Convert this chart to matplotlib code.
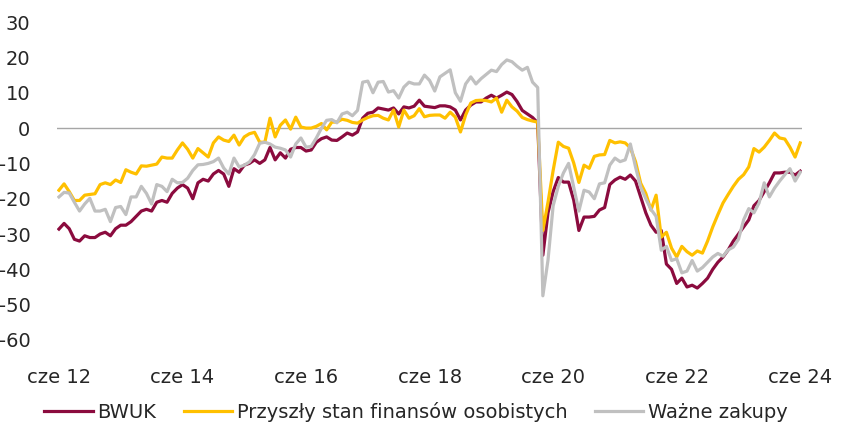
import numpy as np
import matplotlib
matplotlib.use("Agg")
import matplotlib.pyplot as plt

# monthly data, cze 2012 - cze 2024
bwuk = [
    -28.6, -27.0, -28.5, -31.5, -32.0, -30.5, -31.0, -31.0, -30.0, -29.5, -30.5, -28.5,
    -27.5, -27.5, -26.5, -25.0, -23.5, -23.0, -23.5, -21.0, -20.5, -21.0, -18.5, -17.0,
    -16.0, -17.0, -20.0, -15.5, -14.5, -15.0, -13.0, -12.0, -13.0, -16.5, -11.5, -12.5,
    -10.5, -10.0, -9.0, -10.0, -9.0, -5.5, -9.0, -7.0, -8.5, -6.0, -5.5, -5.5,
    -6.5, -6.2, -4.0, -3.0, -2.5, -3.4, -3.5, -2.5, -1.4, -2.0, -1.1, 2.8,
    4.2, 4.5, 5.7, 5.4, 5.1, 5.7, 4.0, 6.0, 5.7, 6.2, 7.9, 6.2,
    6.0, 5.8, 6.3, 6.3, 6.0, 5.1, 2.3, 5.1, 6.5, 7.4, 7.4, 8.5,
    9.3, 8.5, 9.3, 10.2, 9.5, 7.5, 5.0, 4.0, 3.0, 1.5, -36.0, -24.0,
    -18.0, -14.0, -15.3, -15.3, -20.4, -29.0, -25.2, -25.2, -25.0, -23.2, -22.5, -16.0,
    -14.7, -13.9, -14.5, -13.3, -15.0, -19.5, -24.0, -27.5, -29.5, -29.0, -38.5, -40.0,
    -44.0, -42.5, -45.0, -44.5, -45.3, -44.0, -42.5, -40.0, -38.0, -36.5, -34.5, -32.0,
    -30.0, -28.0, -26.0, -22.0, -20.5, -18.0, -15.5, -12.7, -12.7, -12.5, -12.5, -13.3,
    -12.2,
]

finanse = [
    -17.6, -15.8, -18.0, -20.5, -20.5, -19.0, -18.8, -18.6, -16.0, -15.5, -16.0, -14.7,
    -15.4, -11.8, -12.5, -13.0, -10.7, -10.8, -10.5, -10.2, -8.2, -8.5, -8.5, -6.2,
    -4.2, -6.0, -8.5, -5.8, -7.0, -8.2, -4.2, -2.5, -3.4, -3.8, -2.0, -4.8,
    -2.5, -1.6, -1.2, -4.0, -4.0, 2.8, -2.5, 0.8, 2.3, -0.3, 3.1, 0.3,
    0.0, 0.0, 0.5, 1.3, -0.5, 1.7, 1.7, 2.5, 2.2, 1.6, 1.4, 2.3,
    3.0, 3.5, 3.6, 2.8, 2.3, 5.1, 0.3, 5.1, 2.8, 3.5, 5.5, 3.2,
    3.6, 3.7, 3.7, 2.8, 4.5, 3.1, -1.1, 3.7, 7.1, 7.8, 7.9, 7.8,
    7.4, 8.5, 4.5, 7.9, 6.0, 4.8, 3.0, 2.4, 2.0, 1.7, -29.0, -21.0,
    -12.0, -4.0, -5.2, -5.7, -9.9, -15.4, -10.5, -11.4, -8.0, -7.6, -7.5, -3.5,
    -4.2, -3.9, -4.2, -5.6, -9.5, -15.6, -18.5, -23.2, -19.0, -30.9, -29.5, -34.0,
    -36.5, -33.5, -35.0, -36.0, -34.8, -35.4, -32.0, -28.0, -24.5, -21.2, -18.8, -16.5,
    -14.5, -13.2, -11.0, -5.8, -6.8, -5.4, -3.5, -1.4, -2.8, -3.1, -5.4, -8.2,
    -4.2,
]

zakupy = [
    -19.5, -18.2, -18.4, -21.0, -23.5, -21.5, -19.9, -23.5, -23.5, -23.0, -26.5, -22.5,
    -22.2, -24.5, -19.5, -19.5, -16.5, -18.5, -21.5, -16.0, -16.5, -18.0, -14.5, -15.5,
    -15.4, -14.2, -12.0, -10.4, -10.3, -10.0, -9.5, -8.5, -11.3, -13.0, -8.5, -11.0,
    -10.5, -9.6, -7.5, -4.3, -4.0, -4.5, -5.4, -5.7, -6.2, -8.2, -4.5, -2.8,
    -5.4, -5.2, -2.8, 0.0, 2.2, 2.4, 1.5, 4.0, 4.5, 3.5, 5.0, 13.0,
    13.3, 10.0, 13.0, 13.2, 10.2, 10.6, 8.5, 11.6, 13.0, 12.5, 12.5, 15.0,
    13.5, 10.5, 14.5, 15.5, 16.5, 10.0, 7.6, 12.5, 14.5, 12.5, 14.0, 15.2,
    16.4, 16.0, 18.0, 19.3, 18.8, 17.5, 16.4, 17.2, 13.0, 11.5, -47.5, -37.4,
    -22.0, -16.5, -12.7, -10.0, -16.7, -23.5, -17.6, -18.1, -20.0, -15.8, -15.5, -10.5,
    -8.5, -9.5, -9.0, -4.5, -11.0, -16.7, -20.0, -23.0, -25.0, -34.6, -33.5, -37.5,
    -37.0, -41.0, -40.5, -37.5, -40.5, -39.5, -38.0, -36.5, -35.5, -36.3, -34.5, -33.7,
    -31.5, -26.0, -22.8, -24.0, -21.2, -15.5, -19.5, -17.0, -15.0, -13.2, -11.5, -15.0,
    -12.5,
]

tick_pos = [0, 24, 48, 72, 96, 120, 144]
tick_labels = ["cze 12", "cze 14", "cze 16", "cze 18", "cze 20", "cze 22", "cze 24"]

plt.rcParams["font.family"] = ["DejaVu Sans"]
plt.rcParams["axes.unicode_minus"] = False

fig = plt.figure(figsize=(8.49, 4.26), dpi=100)
ax = fig.add_axes([0.067, 0.202, 0.878, 0.746])

x = np.arange(len(bwuk))
ax.axhline(0, color="#a6a6a6", lw=1.0, zorder=1)
ax.plot(x, bwuk, color="#8b0b3e", lw=2.3, label="BWUK", zorder=2)
ax.plot(x, finanse, color="#ffc000", lw=2.3, label="Przyszły stan finansów osobistych", zorder=3)
ax.plot(x, zakupy, color="#c0c0c0", lw=2.3, label="Ważne zakupy", zorder=4)

ax.set_xlim(-0.4, 144.4)
ax.set_ylim(-60, 30)
ax.set_yticks(np.arange(-60, 31, 10))
ax.set_xticks(tick_pos)
ax.set_xticklabels(tick_labels)

for s in ax.spines.values():
    s.set_visible(False)
ax.tick_params(axis="both", length=0, labelsize=14, colors="#262626")
ax.tick_params(axis="y", pad=19)
ax.tick_params(axis="x", pad=20)
ax.grid(False)

fig.legend(loc="center", bbox_to_anchor=(0.49, 0.033), ncol=3, frameon=False,
           fontsize=14, handlelength=2.5, handletextpad=0.25, columnspacing=1.4,
           labelcolor="#262626")

fig.savefig("out.png", dpi=100)
